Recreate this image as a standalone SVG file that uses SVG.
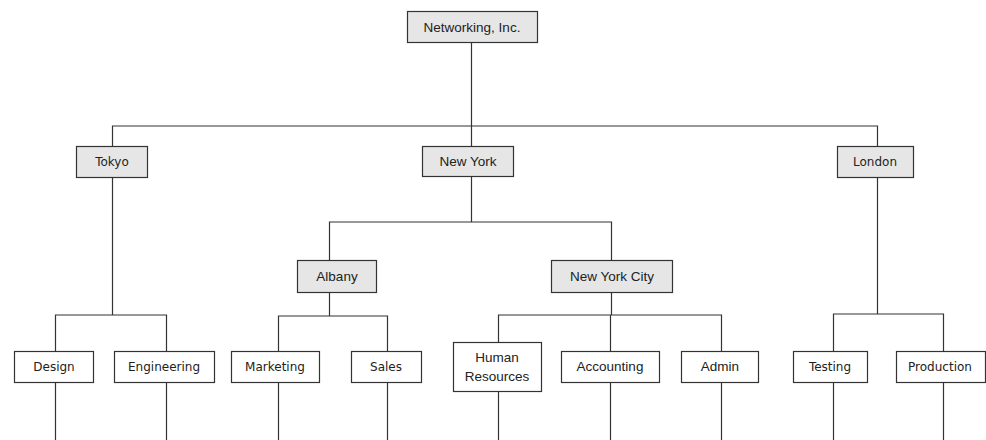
<svg xmlns="http://www.w3.org/2000/svg" width="986" height="440" viewBox="0 0 986 440">
<style>
.box{stroke:#333;stroke-width:1.2;}
.g{fill:#e6e6e6;}
.w{fill:#fff;}
.a{font-family:"Liberation Sans",Arial,sans-serif;font-size:13.5px;fill:#222;text-anchor:middle;}
.t{font-family:"DejaVu Sans","Noto Sans",sans-serif;font-size:12px;fill:#222;text-anchor:middle;}
.c{stroke:#333;stroke-width:1.2;fill:none;}
</style>
<rect width="986" height="440" fill="#fff"/>
<g id="connectors">
<path class="c" d="M471.5 42V126M112.5 146V126H877.5V146M471.5 126V146"/>
<path class="c" d="M112.5 177V315M55.5 351V315H166.5V351"/>
<path class="c" d="M471.5 176V222M329.5 260V222H611.5V260"/>
<path class="c" d="M329.5 292V316M278.5 351V316H387.5V351"/>
<path class="c" d="M611.5 292V315M498.5 342V315H721.5V351M610.5 315V351"/>
<path class="c" d="M877.5 177V314M833.5 351V314H943.5V351"/>
<path class="c" d="M55.5 382V440M166.5 382V440M278.5 382V440M387.5 382V440M498.5 391V440M610.5 382V440M721.5 382V440M833.5 382V440M943.5 382V440"/>
</g>
<g id="networking"><rect class="box g" x="407.5" y="11.5" width="130" height="31"/><text class="a" x="472" y="31.5">Networking, Inc.</text></g>
<g id="tokyo"><rect class="box g" x="76.5" y="146.5" width="71" height="31"/><text class="t" x="112" y="166">Tokyo</text></g>
<g id="newyork"><rect class="box g" x="422.5" y="146.5" width="91" height="30"/><text class="a" x="468" y="166">New York</text></g>
<g id="london"><rect class="box g" x="837.5" y="146.5" width="76" height="31"/><text class="t" x="875" y="166">London</text></g>
<g id="albany"><rect class="box g" x="297.5" y="260.5" width="79" height="32"/><text class="a" x="337" y="281">Albany</text></g>
<g id="nyc"><rect class="box g" x="551.5" y="260.5" width="121" height="32"/><text class="a" x="612" y="281">New York City</text></g>
<g id="design"><rect class="box w" x="14.5" y="351.5" width="79" height="31"/><text class="t" x="54" y="371">Design</text></g>
<g id="engineering"><rect class="box w" x="114.5" y="351.5" width="100" height="31"/><text class="t" x="164" y="371">Engineering</text></g>
<g id="marketing"><rect class="box w" x="231.5" y="351.5" width="88" height="31"/><text class="t" x="275" y="371">Marketing</text></g>
<g id="sales"><rect class="box w" x="351.5" y="351.5" width="70" height="31"/><text class="t" x="386" y="371">Sales</text></g>
<g id="hr"><rect class="box w" x="453.5" y="342.5" width="88" height="49"/><text class="a" x="497" y="362">Human</text><text class="a" x="497" y="381">Resources</text></g>
<g id="accounting"><rect class="box w" x="561.5" y="351.5" width="98" height="31"/><text class="a" x="610" y="371">Accounting</text></g>
<g id="admin"><rect class="box w" x="681.5" y="351.5" width="77" height="31"/><text class="a" x="720" y="371">Admin</text></g>
<g id="testing"><rect class="box w" x="793.5" y="351.5" width="74" height="31"/><text class="t" x="830" y="371">Testing</text></g>
<g id="production"><rect class="box w" x="896.5" y="351.5" width="89" height="31"/><text class="t" x="940" y="371">Production</text></g>
</svg>
